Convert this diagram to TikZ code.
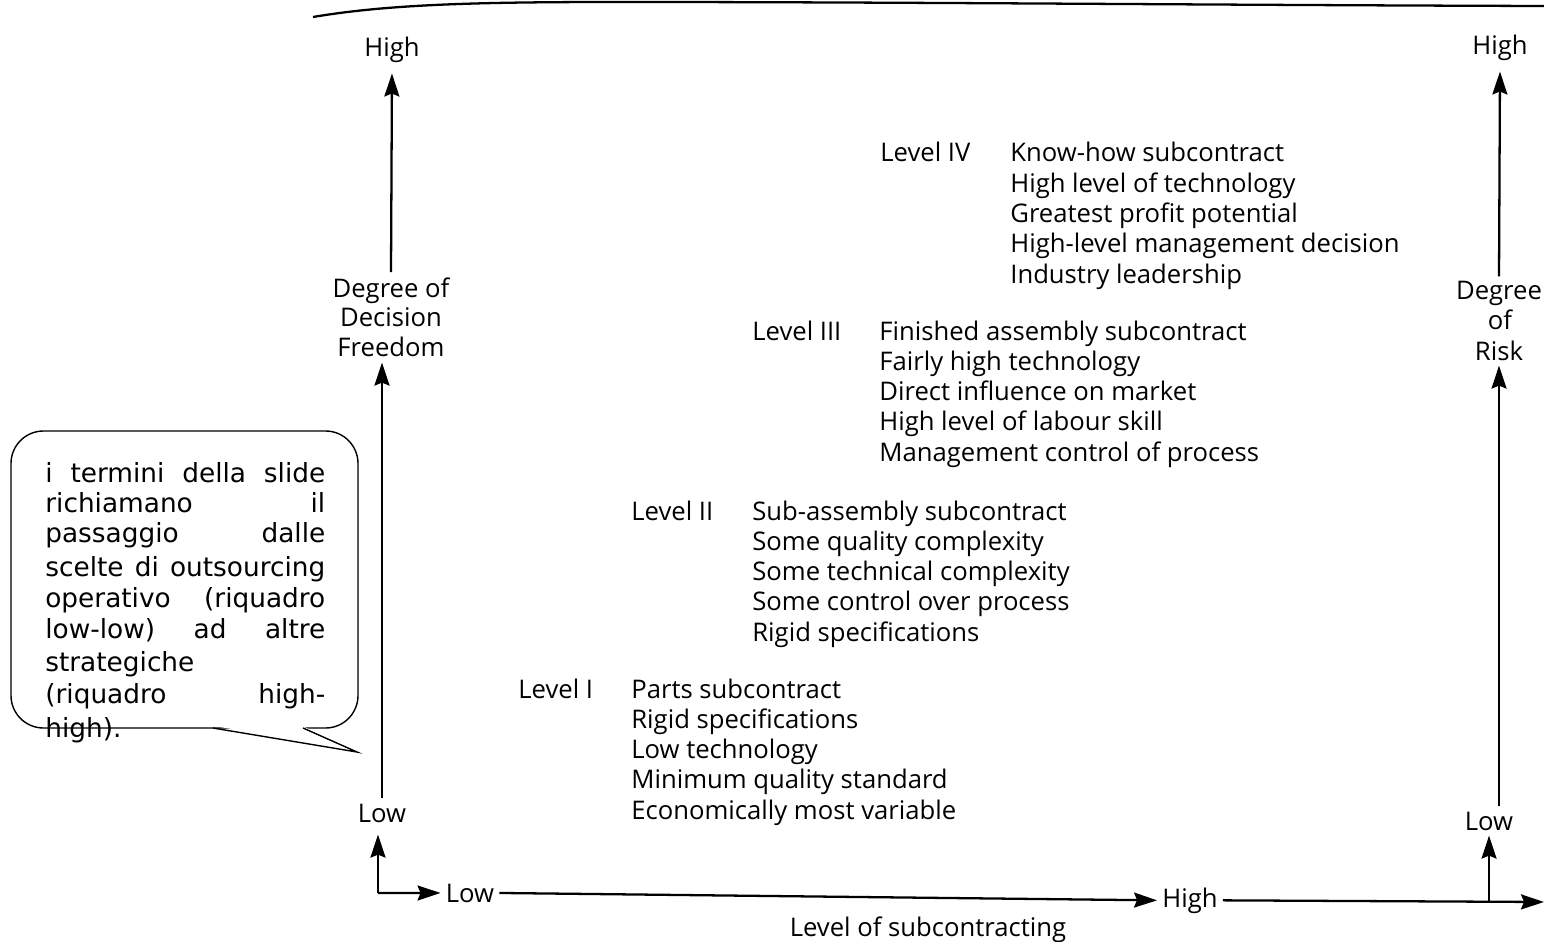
\documentclass[tikz,border=0pt]{standalone}
\usepackage{fontspec}
\setmainfont{Open Sans}
\newfontfamily\callfont{DejaVu Sans}
\usetikzlibrary{arrows.meta}
\begin{document}
\begin{tikzpicture}[x=0.02cm,y=-0.02cm,
  txt/.style={font=\fontsize{14.6}{17}\selectfont, inner sep=0pt, anchor=base west},
  axlbl/.style={font=\fontsize{14.6}{17}\selectfont, inner sep=0.1cm, anchor=base},
  axis/.style={line width=1.3pt},
  arr/.style={axis,-{Stealth[length=0.46cm,width=0.3cm,inset=0.06cm]}},
  ctxt/.style={font=\callfont\fontsize{15}{18}\selectfont, inner sep=0pt, anchor=base west},
  bubble/.style={line width=0.8pt, rounded corners=0.65cm}]
\useasboundingbox (0,0) rectangle (1544,942);

% curved rule along the top edge
\draw[line width=1.3pt] (313,17) .. controls (390,4) and (480,2) .. (620,2)
  .. controls (900,2) and (1200,5) .. (1544,6);

% left axis: degree of decision freedom
\node[axlbl] (hiL) at (392,57) {High};
\node[axlbl] (frA) at (391,297) {Degree of};
\node[axlbl] (frB) at (391,327) {Decision};
\node[axlbl] (frC) at (391,357) {Freedom};
\node[axlbl] (loL) at (382,822) {Low};
\coordinate (orig) at (378,893);

% right axis: degree of risk
\node[axlbl] (hiR) at (1500,55) {High};
\node[axlbl] (rkA) at (1499,300) {Degree};
\node[axlbl] (rkB) at (1500,330) {of};
\node[axlbl] (rkC) at (1499,360) {Risk};
\node[axlbl] (loR) at (1489,830) {Low};

% horizontal axis: level of subcontracting
\node[axlbl] (xLo) at (470,902) {Low};
\node[axlbl] (xHi) at (1190,907) {High};
\coordinate (xEnd) at (1544,902);
\coordinate (footR) at (loR.south |- 0,901);
\node[axlbl, inner sep=0pt] (xTitle) at (928,936) {Level of subcontracting};

% axis connectors
\draw[arr, shorten >=0.1cm] (frA.north) -- (hiL.south);
\draw[arr] (loL.north) -- (loL.north |- frC.south);
\draw[arr, shorten >=0.14cm] (orig) -- (orig |- loL.south);
\draw[arr] (orig) -- (xLo.west);
\draw[arr] (xLo.east) -- (xHi.west);
\draw[arr] (xHi.east) -- (xEnd);
\draw[arr, shorten >=0.1cm] (rkA.north) -- (hiR.south);
\draw[arr] (loR.north -| rkC.south) -- (rkC.south);
\draw[arr] (footR) -- (loR.south);

% levels of subcontracting
\node[txt] (lv4) at (880,162) {Level IV};
\foreach \t [count=\i from 0] in {Know-how subcontract, High level of technology,
    Greatest profit potential, High-level management decision, Industry leadership}
  \node[txt] (l4-\i) at (1010,{162+30.3*\i}) {\t};

\node[txt] (lv3) at (752,340) {Level III};
\foreach \t [count=\i from 0] in {Finished assembly subcontract, Fairly high technology,
    Direct influence on market, High level of labour skill, Management control of process}
  \node[txt] (l3-\i) at (879,{340+30.3*\i}) {\t};

\node[txt] (lv2) at (631,520) {Level II};
\foreach \t [count=\i from 0] in {Sub-assembly subcontract, Some quality complexity,
    Some technical complexity, Some control over process, Rigid specifications}
  \node[txt] (l2-\i) at (752,{520+30.3*\i}) {\t};

\node[txt] (lv1) at (518,698) {Level I};
\foreach \t [count=\i from 0] in {Parts subcontract, Rigid specifications,
    Low technology, Minimum quality standard, Economically most variable}
  \node[txt] (l1-\i) at (631,{698+30.3*\i}) {\t};

% speech bubble with its pointer
\draw[bubble, fill=white] (11,431) rectangle (358,728);
\fill[white] (214,726) -- (302,726) -- (355,750) -- cycle;
\draw[line width=0.8pt, line join=miter] (213,728) -- (357,752) -- (303,728);

\node[ctxt] (c1) at (45,482) {\hbox to 5.6cm{i\hfill termini\hfill della\hfill slide}};
\node[ctxt] (c2) at (45,512) {\hbox to 5.6cm{richiamano\hfill il}};
\node[ctxt] (c3) at (45,542) {\hbox to 5.6cm{passaggio\hfill dalle}};
\node[ctxt] (c4) at (45,576) {\hbox to 5.6cm{scelte\hfill di\hfill outsourcing}};
\node[ctxt] (c5) at (45,607) {\hbox to 5.6cm{operativo\hfill (riquadro}};
\node[ctxt] (c6) at (45,638) {\hbox to 5.6cm{low-low)\hfill ad\hfill altre}};
\node[ctxt] (c7) at (45,671) {strategiche};
\node[ctxt] (c8) at (45,703) {\hbox to 5.6cm{(riquadro\hfill high-}};
\node[ctxt] (c9) at (45,737) {high).};
\end{tikzpicture}
\end{document}
